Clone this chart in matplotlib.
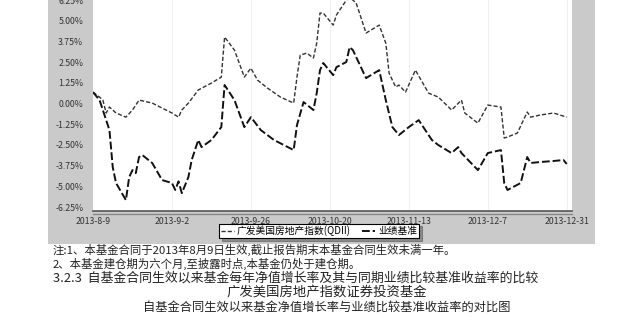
import matplotlib
matplotlib.use('Agg')
import matplotlib.pyplot as plt
from matplotlib.patches import Rectangle
from matplotlib.lines import Line2D

plt.rcParams['font.family'] = ['Noto Sans CJK SC', 'DejaVu Sans']

# days since 2013-8-9, cumulative growth (%)
fund_days = [0, 2, 3, 4, 5, 7, 10, 12, 14, 18, 21, 24, 26, 27, 29, 32, 36, 39, 40, 43, 46, 48, 50,
             53, 57, 61, 62, 63, 65, 67, 68, 69, 70, 73, 74, 77, 78, 80, 83, 87, 89, 90, 92, 93,
             95, 98, 102, 105, 109, 112, 113, 117, 120, 124, 125, 126, 129, 132, 133, 136, 140, 144]
fund_vals = [0.69, 0.39, 0.21, -0.57, -0.21, -0.57, -0.82, -0.39, 0.21, 0.03, -0.27, -0.57, -0.82,
             -0.39, 0.03, 0.82, 1.24, 1.60, 4.02, 3.23, 1.60, 2.14, 1.42, 0.94, 0.39, 0.03, 1.60,
             2.93, 3.05, 2.75, 3.65, 5.47, 5.47, 4.74, 5.35, 6.25, 6.43, 6.07, 4.26, 4.74, 3.65,
             1.84, 1.00, 1.12, 0.69, 2.02, 0.63, 0.39, -0.39, 0.21, -0.57, -1.18, -0.09, -0.21,
             -2.08, -2.02, -1.78, -0.51, -0.82, -0.69, -0.57, -0.82]

bench_days = [0, 2, 4, 5, 6, 7, 10, 11, 12, 13, 14, 15, 18, 21, 24, 25, 26, 27, 29, 30, 32, 33, 36,
              39, 40, 43, 46, 48, 51, 55, 61, 62, 64, 67, 68, 69, 70, 73, 74, 77, 78, 79, 83, 87,
              89, 91, 93, 96, 99, 103, 105, 109, 111, 112, 117, 120, 124, 125, 126, 130, 132, 133,
              136, 140, 143, 144]
bench_vals = [0.69, 0.21, -1.00, -1.60, -3.84, -4.80, -5.83, -4.44, -4.02, -4.20, -3.23, -3.11,
              -3.59, -4.62, -4.80, -5.22, -4.70, -5.41, -4.44, -3.41, -2.20, -2.63, -2.20, -1.42,
              1.12, 0.21, -1.42, -0.82, -1.60, -2.20, -2.81, -1.30, 0.09, -0.39, 0.63, 2.02, 2.45,
              1.72, 2.20, 2.51, 3.41, 3.23, 1.54, 2.02, 0.21, -1.42, -1.90, -1.42, -1.00, -2.20,
              -2.51, -2.99, -2.63, -2.99, -4.02, -2.99, -2.81, -4.80, -5.22, -4.80, -3.23, -3.59,
              -3.53, -3.47, -3.41, -3.65]

tick_days = [0, 24, 48, 72, 96, 120, 144]
tick_labels = ['2013-8-9', '2013-9-2', '2013-9-26', '2013-10-20', '2013-11-13', '2013-12-7', '2013-12-31']
y_ticks = [-6.25, -5.0, -3.75, -2.5, -1.25, 0.0, 1.25, 2.5, 3.75, 5.0, 6.25]

W, H = 631, 317
fig = plt.figure(figsize=(W / 100, H / 100), dpi=100)
fig.patch.set_facecolor('white')

# grey chart frame
fig.add_artist(Rectangle((48 / W, 73 / H), 547 / W, 244 / H, transform=fig.transFigure,
                         facecolor='#cacaca', edgecolor='none', zorder=0))

ax = fig.add_axes([93 / W, 106 / H, 479 / W, 223.3 / H])
ax.set_facecolor('white')
ax.plot(fund_days, fund_vals, color='#333333', lw=1.0, linestyle=(0, (3, 1.5)), label='广发美国房地产指数(QDII)')
ax.plot(bench_days, bench_vals, color='#111111', lw=1.4, linestyle=(0, (4, 1.5)), label='业绩基准')
ax.set_xlim(0, 145.6)
ax.set_ylim(-6.49, 7.0)

for d in tick_days[1:]:
    ax.axvline(d, color='#f0f0f0', lw=0.8, zorder=0)

ax.set_xticks(tick_days)
ax.set_xticklabels(tick_labels, fontsize=6.3, color='#333333')
ax.set_yticks(y_ticks)
ax.set_yticklabels([f'{v:.2f}%' for v in y_ticks], fontsize=6.3, color='#333333')
ax.tick_params(axis='both', length=0)
ax.tick_params(axis='y', pad=7)
ax.tick_params(axis='x', pad=4)
for s in ['top', 'left', 'right']:
    ax.spines[s].set_visible(False)
ax.spines['bottom'].set_color('#555555')
ax.spines['bottom'].set_linewidth(1.2)
fig.add_artist(Line2D([93 / W, 572 / W], [(H - 213.5) / H] * 2, transform=fig.transFigure,
                      color='#888888', lw=1.0))

leg = fig.legend(loc='center', bbox_to_anchor=(319 / W, 1 - 231 / H), ncol=2, fontsize=7,
                 frameon=True, fancybox=False, shadow=True, handlelength=1.3, handletextpad=0.3,
                 columnspacing=1.2, borderpad=0.2)
leg.get_frame().set_edgecolor('black')
leg.get_frame().set_linewidth(0.8)

notes = ['注:1、本基金合同于2013年8月9日生效,截止报告期末本基金合同生效未满一年。',
         '2、本基金建仓期为六个月,至披露时点,本基金仍处于建仓期。']
for i, t in enumerate(notes):
    fig.text(53 / W, 1 - (250 + 14 * i) / H, t, fontsize=8.2, color='#222222', va='center')
fig.text(53 / W, 1 - 278 / H, '3.2.3  自基金合同生效以来基金每年净值增长率及其与同期业绩比较基准收益率的比较',
         fontsize=9.3, color='#222222', va='center')
fig.text(327 / W, 1 - 293 / H, '广发美国房地产指数证券投资基金', fontsize=9.6, color='#222222',
         va='center', ha='center')
fig.text(327 / W, 1 - 307 / H, '自基金合同生效以来基金净值增长率与业绩比较基准收益率的对比图', fontsize=8.8,
         color='#222222', va='center', ha='center')

fig.savefig('out.png', dpi=100)
